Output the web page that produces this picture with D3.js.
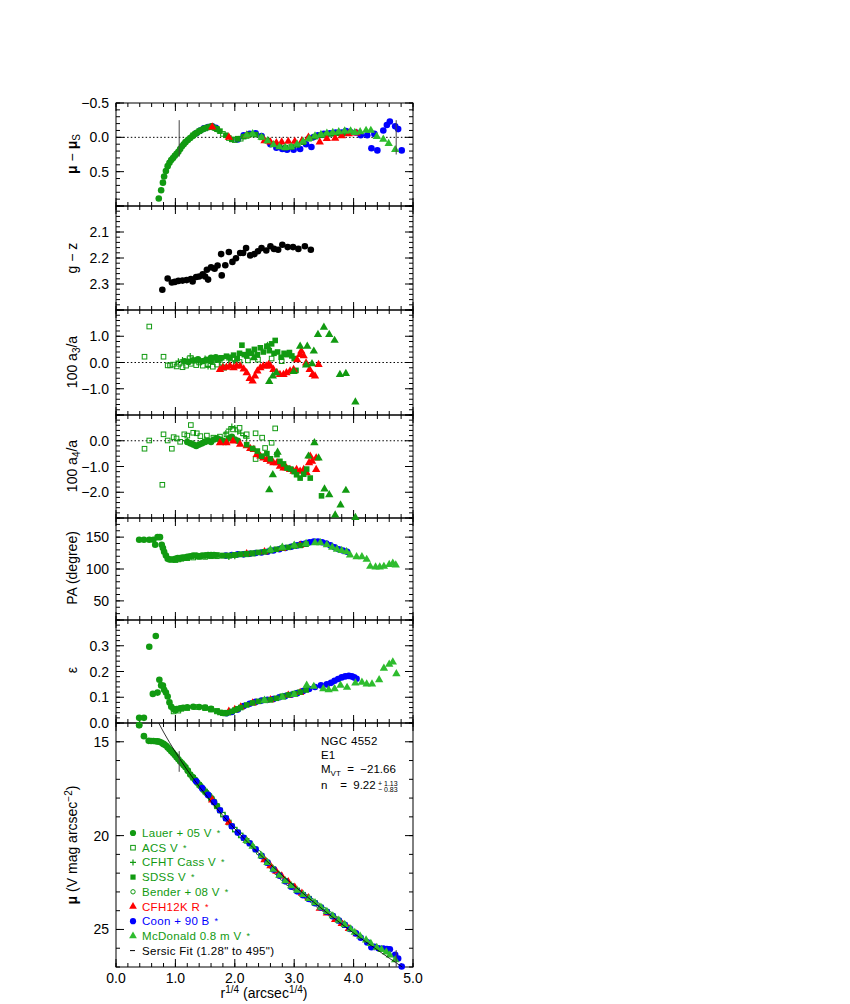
<!DOCTYPE html>
<html><head><meta charset="utf-8">
<script src="https://cdn.jsdelivr.net/npm/d3@7"></script>
<style>body{margin:0;background:#fff}svg text{font-family:"Liberation Sans",Arial,sans-serif}</style>
</head><body><svg id="c" width="850" height="1004"></svg>
<script>
// ---------------- DATA ----------------
const xTickLabels = [0.0, 1.0, 2.0, 3.0, 4.0, 5.0];
const p1TickLabels = [-0.5, 0.0, 0.5];
const p2TickLabels = [2.1, 2.2, 2.3];
const p3TickLabels = [1.0, 0.0, -1.0];
const p4TickLabels = [0.0, -1.0, -2.0];
const p5TickLabels = [150, 100, 50];
const p6TickLabels = [0.0, 0.1, 0.2, 0.3];
const p7TickLabels = [15, 20, 25];

const legendLabels = ["Lauer + 05 V", "ACS V", "CFHT Cass V", "SDSS V", "Bender + 08 V", "CFH12K R", "Coon + 90 B", "McDonald 0.8 m V", "Sersic Fit (1.28\" to 495\")"];
const fitRange = [1.064, 4.717];

// panel 1 : mu - mu_S
const res_lauer = [[0.72,0.89],[0.76,0.77],[0.79,0.66],[0.81,0.57],[0.84,0.49],[0.87,0.42],[0.90,0.37],[0.93,0.33],[0.96,0.30],[0.99,0.27],[1.02,0.24],[1.05,0.21],[1.08,0.17],[1.11,0.13],[1.14,0.10],[1.17,0.07],[1.21,0.04],[1.25,0.01],[1.29,-0.02],[1.33,-0.05],[1.37,-0.07],[1.42,-0.10],[1.47,-0.12],[1.52,-0.14],[1.57,-0.15],[1.61,-0.16],[1.65,-0.14],[1.70,-0.12]];
const res_acs = [[1.30,-0.03],[1.40,-0.09],[1.50,-0.13],[1.60,-0.15],[1.70,-0.12],[1.80,-0.05],[1.90,0.01],[2.00,0.04],[2.10,0.02],[2.20,-0.02]];
const res_sdss = [[1.75,-0.09],[1.85,-0.03],[1.95,0.03],[2.05,0.02],[2.15,-0.01],[2.25,-0.04],[2.35,-0.04],[2.45,0.00],[2.55,0.05],[2.65,0.10],[2.75,0.13],[2.85,0.15],[2.95,0.14],[3.05,0.11],[3.15,0.07],[3.25,0.02],[3.35,-0.01],[3.45,-0.03],[3.55,-0.04],[3.65,-0.05],[3.75,-0.06],[3.85,-0.06]];
const res_cfh = [[1.62,-0.15],[1.90,0.00],[2.20,-0.03],[2.50,0.05],[2.60,0.07],[2.70,0.08],[2.79,0.07],[2.90,0.06],[3.01,0.06],[3.13,0.05],[3.24,0.00],[3.43,0.07],[3.55,0.02],[3.69,0.015],[3.80,-0.02],[3.92,-0.05],[4.05,-0.06]];
const res_coon = [[1.35,-0.06],[1.42,-0.10],[1.48,-0.13],[1.55,-0.15],[1.62,-0.16],[1.68,-0.14],[2.05,0.03],[2.15,-0.03],[2.25,-0.05],[2.35,-0.06],[2.45,-0.02],[2.60,0.10],[2.70,0.15],[2.80,0.17],[2.88,0.18],[2.99,0.18],[3.10,0.17],[3.20,0.10],[3.29,0.14],[3.32,0.00],[3.40,-0.03],[3.50,-0.05],[3.60,-0.06],[3.70,-0.07],[3.80,-0.07],[3.87,-0.09],[3.94,-0.08],[4.04,-0.07],[4.12,-0.03],[4.23,-0.03],[4.30,0.16],[4.35,-0.05],[4.40,0.19],[4.50,-0.10],[4.56,-0.18],[4.61,-0.23],[4.70,-0.16],[4.75,-0.12],[4.81,0.19]];
const res_mcd = [[2.20,-0.03],[2.30,-0.05],[2.45,0.00],[2.55,0.05],[2.65,0.11],[2.75,0.14],[2.85,0.15],[2.95,0.14],[3.05,0.10],[3.15,0.06],[3.25,0.02],[3.35,-0.02],[3.45,-0.04],[3.55,-0.06],[3.65,-0.07],[3.75,-0.08],[3.85,-0.09],[3.95,-0.09],[4.02,-0.07],[4.11,-0.08],[4.21,-0.10],[4.29,-0.10],[4.39,-0.01],[4.50,0.03],[4.59,0.09],[4.70,0.18]];

// panel 2 : g - z
const gz = [[0.78,2.322],[0.87,2.279],[0.94,2.294],[0.99,2.292],[1.05,2.288],[1.12,2.287],[1.19,2.285],[1.26,2.281],[1.29,2.290],[1.35,2.273],[1.40,2.271],[1.46,2.263],[1.50,2.271],[1.53,2.245],[1.55,2.283],[1.60,2.236],[1.66,2.241],[1.71,2.229],[1.77,2.185],[1.78,2.267],[1.84,2.228],[1.90,2.177],[1.96,2.215],[2.02,2.201],[2.09,2.181],[2.14,2.181],[2.19,2.162],[2.26,2.190],[2.33,2.185],[2.39,2.174],[2.45,2.162],[2.53,2.171],[2.60,2.155],[2.66,2.165],[2.73,2.168],[2.80,2.149],[2.89,2.158],[2.98,2.158],[3.07,2.165],[3.18,2.155],[3.28,2.168]];

// panel 3 : 100 a3/a
const a3_acs = [[0.56,1.37],[0.48,0.22],[0.80,0.22],[0.87,-0.11],[0.91,-0.11],[0.96,-0.08],[1.02,-0.15],[1.06,-0.05],[1.12,-0.18],[1.18,-0.12],[1.26,-0.05],[1.35,-0.10],[1.40,0.00],[1.46,-0.12],[1.55,-0.10],[1.63,-0.16],[1.70,-0.08],[1.82,-0.20],[1.94,-0.02],[2.08,0.02],[2.22,0.08],[2.39,0.11],[2.62,0.15],[2.79,0.05]];
const a3_cfht = [[1.05,0.05],[1.12,0.10],[1.20,0.12],[1.25,0.25],[1.30,0.15],[1.35,0.08],[1.42,0.05],[1.50,0.15],[1.55,-0.15],[1.60,0.05],[1.68,0.10],[1.75,0.02],[1.80,-0.10],[1.90,0.10],[2.00,0.05]];
const a3_lauer = [[1.15,0.05],[1.22,0.02],[1.30,0.08],[1.38,0.12],[1.45,0.05],[1.52,0.10],[1.60,0.18],[1.68,0.20],[1.75,0.15]];
const a3_sdss = [[1.60,0.05],[1.70,0.12],[1.78,0.18],[1.86,0.24],[1.92,0.20],[1.98,0.28],[2.04,0.15],[2.08,0.35],[2.12,0.66],[2.16,0.30],[2.20,0.25],[2.23,0.43],[2.28,0.35],[2.33,0.50],[2.38,0.30],[2.43,0.56],[2.48,0.40],[2.54,0.62],[2.58,0.45],[2.62,0.71],[2.66,0.35],[2.68,0.84],[2.72,0.40],[2.78,0.20],[2.83,0.35],[2.87,0.30],[2.92,0.38],[2.96,0.25],[3.00,0.15],[3.03,-0.30]];
const a3_cfh = [[1.75,-0.27],[1.80,-0.20],[1.86,-0.18],[1.92,-0.14],[1.98,-0.20],[2.03,-0.14],[2.09,-0.14],[2.15,-0.25],[2.20,-0.39],[2.25,-0.61],[2.30,-0.71],[2.34,-0.52],[2.38,-0.33],[2.43,-0.20],[2.48,-0.14],[2.53,-0.14],[2.57,-0.08],[2.60,-0.14],[2.65,-0.27],[2.71,-0.39],[2.76,-0.46],[2.82,-0.46],[2.87,-0.39],[2.93,-0.33],[2.99,-0.27],[3.05,0.10],[3.10,0.30],[3.12,0.43],[3.16,0.25],[3.20,-0.02],[3.26,-0.27],[3.31,-0.46],[3.35,-0.52],[3.41,-0.08]];
const a3_mcd = [[2.32,0.18],[2.55,0.62],[2.58,-0.73],[2.64,-0.52],[2.70,-0.39],[2.99,-0.35],[3.10,0.62],[3.20,-0.10],[3.22,0.62],[3.30,-0.05],[3.33,0.43],[3.40,1.06],[3.50,1.34],[3.59,1.06],[3.68,0.84],[3.77,-0.46],[3.87,-0.42],[4.03,-1.51]];

// panel 4 : 100 a4/a
const a4_acs = [[0.48,-0.31],[0.56,0.01],[0.80,0.25],[0.78,-1.71],[0.87,0.01],[0.94,-0.31],[0.97,0.14],[1.02,0.09],[1.08,-0.04],[1.15,0.25],[1.20,0.20],[1.26,0.61],[1.30,0.31],[1.36,0.29],[1.42,0.18],[1.53,0.20],[1.64,0.12],[1.75,0.16],[1.86,0.25],[1.97,0.44],[2.08,0.50],[2.20,0.25],[2.35,0.29],[2.46,0.12],[2.68,0.48],[2.62,-0.08],[2.51,-0.28],[2.35,-0.71]];
const a4_cfht = [[1.20,0.00],[1.30,-0.10],[1.50,0.05],[1.85,0.30],[1.90,0.45],[1.95,0.55],[2.00,0.50],[2.05,0.35],[2.10,0.30],[2.15,0.20],[2.20,0.10]];
const a4_lauer = [[1.20,-0.05],[1.25,-0.10],[1.30,-0.15],[1.35,-0.20],[1.40,-0.15],[1.45,-0.10],[1.50,-0.05],[1.55,0.00],[1.60,-0.05],[1.65,0.05],[1.70,0.10],[1.75,0.05],[1.80,0.00],[1.85,-0.05],[1.90,0.10],[1.95,0.15],[2.00,0.05],[2.05,0.00]];
const a4_sdss = [[2.20,-0.15],[2.30,-0.30],[2.38,-0.40],[2.45,-0.60],[2.54,-0.50],[2.60,-0.70],[2.71,-0.54],[2.76,-0.80],[2.82,-0.90],[2.88,-1.06],[2.94,-1.10],[3.00,-1.20],[3.04,-1.32],[3.10,-1.45],[3.16,-1.30],[3.21,-1.10],[3.27,-1.45],[3.46,-2.14]];
const a4_cfh = [[1.75,-0.08],[1.86,-0.08],[1.97,-0.01],[2.09,-0.14],[2.20,-0.20],[2.26,-0.30],[2.32,-0.34],[2.37,-0.54],[2.43,-0.60],[2.48,-0.67],[2.54,-0.73],[2.60,-0.80],[2.65,-0.86],[2.71,-0.86],[2.76,-0.99],[2.82,-1.06],[2.87,-1.06],[2.93,-1.12],[2.99,-1.19],[3.04,-1.12],[3.10,-1.19],[3.16,-1.12],[3.21,-1.25],[3.25,-0.86],[3.27,-0.60],[3.30,-0.80],[3.37,-0.67],[3.37,-1.12]];
const a4_mcd = [[2.58,-1.91],[2.64,-1.32],[2.72,-0.45],[3.24,-0.60],[3.34,-0.08],[3.41,-0.67],[3.51,-1.88],[3.59,-2.10],[3.69,-2.89],[3.78,-2.50],[3.87,-1.93],[4.03,-2.98]];

// panel 5 : PA
const pa_lauer = [[0.39,146],[0.47,146],[0.56,146],[0.63,146],[0.66,138],[0.70,150],[0.74,150],[0.77,138],[0.79,133],[0.81,127],[0.84,121],[0.87,116],[0.90,115],[0.93,115],[0.97,115],[1.00,116],[1.04,117],[1.08,117],[1.12,118],[1.16,118],[1.20,119],[1.25,120],[1.30,121],[1.35,121],[1.40,120],[1.45,121],[1.50,121],[1.55,122],[1.60,122],[1.65,122]];
const pa_acs = [[1.00,114],[1.05,115],[1.10,116],[1.15,117],[1.20,117],[1.30,118],[1.40,119],[1.50,119],[1.60,120],[1.70,120],[1.80,121],[1.90,121],[2.00,122],[2.10,123],[2.20,123],[2.30,124]];
const pa_cfht = [[1.30,120],[1.50,122],[1.70,121],[1.90,119],[2.00,120]];
const pa_sdss = [[1.60,121],[1.70,122],[1.80,121],[1.90,121],[2.00,122],[2.10,123],[2.20,124],[2.30,125],[2.40,126],[2.50,127],[2.60,129],[2.70,131],[2.80,133],[2.90,134],[3.00,136],[3.10,137],[3.20,139]];
const pa_cfh = [[2.20,124],[2.50,127],[2.80,132],[3.10,137]];
const pa_coon = [[1.85,121],[1.95,122],[2.05,123],[2.15,123],[2.25,124],[2.35,125],[2.45,126],[2.55,127],[2.65,129],[2.75,131],[2.85,133],[2.95,135],[3.05,137],[3.12,139],[3.19,140],[3.26,142],[3.33,143],[3.40,143],[3.47,142],[3.54,140],[3.61,137],[3.68,134],[3.75,131],[3.82,129],[3.89,127]];
const pa_mcd = [[2.60,130],[2.80,134],[3.00,137],[3.20,140],[3.35,141],[3.44,141],[3.55,138],[3.64,134],[3.72,131],[3.80,129],[3.88,127],[3.94,122],[4.05,119],[4.14,119],[4.22,115],[4.28,104],[4.37,103],[4.44,103],[4.51,104],[4.60,107],[4.66,109],[4.71,106]];

// panel 6 : ellipticity
const eps_lauer = [[0.39,-0.008],[0.39,0.02],[0.47,0.02],[0.56,0.296],[0.62,0.113],[0.67,0.338],[0.70,0.118],[0.73,0.168],[0.76,0.146],[0.79,0.145],[0.81,0.129],[0.84,0.118],[0.87,0.103],[0.90,0.080],[0.93,0.063],[0.97,0.054],[1.02,0.054],[1.08,0.057],[1.13,0.059],[1.20,0.061],[1.30,0.063],[1.40,0.062],[1.50,0.060],[1.60,0.055]];
const eps_acs = [[0.97,0.045],[1.00,0.050],[1.05,0.048],[1.10,0.055],[1.20,0.058],[1.35,0.062],[1.50,0.060],[1.60,0.052],[1.70,0.045],[1.80,0.040]];
const eps_sdss = [[1.50,0.058],[1.60,0.054],[1.70,0.047],[1.75,0.041],[1.80,0.038],[1.84,0.037],[1.89,0.040],[1.95,0.045],[2.00,0.050],[2.05,0.055],[2.10,0.060],[2.20,0.070],[2.30,0.078],[2.40,0.084],[2.50,0.088],[2.60,0.090],[2.70,0.096],[2.80,0.104],[2.90,0.109],[3.00,0.114],[3.10,0.120],[3.20,0.128]];
const eps_cfh = [[1.90,0.045],[2.00,0.052],[2.10,0.062],[2.30,0.077],[2.60,0.090],[2.90,0.108],[3.10,0.118]];
const eps_coon = [[1.86,0.038],[1.95,0.043],[2.05,0.052],[2.15,0.066],[2.25,0.075],[2.35,0.082],[2.45,0.087],[2.55,0.090],[2.65,0.093],[2.75,0.100],[2.85,0.105],[2.95,0.110],[3.05,0.116],[3.15,0.124],[3.25,0.132],[3.35,0.140],[3.45,0.146],[3.55,0.150],[3.62,0.156],[3.68,0.164],[3.74,0.171],[3.80,0.177],[3.86,0.181],[3.92,0.183],[3.97,0.181],[4.01,0.177],[4.05,0.172]];
const eps_mcd = [[2.50,0.088],[2.80,0.100],[3.00,0.110],[3.21,0.146],[3.33,0.142],[3.49,0.133],[3.58,0.129],[3.68,0.133],[3.78,0.146],[3.89,0.138],[4.03,0.155],[4.14,0.158],[4.22,0.151],[4.31,0.151],[4.43,0.168],[4.51,0.212],[4.60,0.228],[4.66,0.237],[4.72,0.191]];

// panel 7 : surface brightness
const mu_lauer = [[0.39,14.12],[0.47,14.70],[0.55,14.95],[0.59,14.96],[0.63,14.96],[0.67,14.97],[0.70,14.98],[0.73,15.00],[0.76,15.04],[0.79,15.10],[0.81,15.14],[0.84,15.20],[0.87,15.30],[0.90,15.40],[0.93,15.50],[0.96,15.60],[0.99,15.71],[1.02,15.82],[1.05,15.93],[1.08,16.05],[1.11,16.15],[1.14,16.25],[1.17,16.36],[1.21,16.54],[1.25,16.74],[1.29,16.88],[1.33,17.03],[1.37,17.18],[1.42,17.36],[1.47,17.55],[1.52,17.72],[1.57,17.88],[1.61,18.02],[1.65,18.20],[1.70,18.42]];
const mu_acs = [[1.30,16.92],[1.40,17.29],[1.50,17.65],[1.60,18.03],[1.70,18.44],[1.80,18.88],[1.90,19.30],[2.00,19.68],[2.10,19.99],[2.20,20.28]];
const mu_bender = [[1.20,16.56],[1.30,16.92],[1.40,17.29],[1.50,17.65],[1.60,18.03],[1.70,18.44],[1.80,18.88],[1.90,19.30],[2.00,19.68],[2.10,19.98],[2.20,20.27],[2.30,20.57],[2.40,20.91],[2.50,21.26],[2.60,21.62],[2.70,21.96],[2.80,22.27],[2.90,22.55],[3.00,22.80],[3.10,23.04],[3.20,23.25],[3.30,23.47],[3.40,23.70],[3.50,23.93],[3.60,24.17],[3.70,24.41],[3.80,24.64]];
const mu_sdss = [[1.75,18.66],[1.85,19.08],[1.95,19.50],[2.05,19.83],[2.15,20.13],[2.25,20.42],[2.35,20.74],[2.45,21.09],[2.55,21.44],[2.65,21.79],[2.75,22.11],[2.85,22.41],[2.95,22.68],[3.05,22.92],[3.15,23.15],[3.25,23.36],[3.35,23.59],[3.45,23.83],[3.55,24.07],[3.65,24.30],[3.75,24.53],[3.85,24.77]];
const mu_cfh = [[1.62,18.11],[1.90,19.29],[2.20,20.27],[2.50,21.29],[2.60,21.61],[2.70,21.91],[2.79,22.16],[2.90,22.46],[3.01,22.76],[3.13,23.07],[3.24,23.31],[3.43,23.88],[3.55,24.13],[3.69,24.47],[3.80,24.69],[3.92,24.95],[4.05,25.24]];
const mu_coon = [[1.35,17.11],[1.45,17.47],[1.55,17.83],[1.65,18.22],[1.75,18.65],[1.85,19.08],[1.95,19.50],[2.05,19.84],[2.15,20.12],[2.25,20.41],[2.35,20.73],[2.45,21.08],[2.55,21.44],[2.65,21.80],[2.75,22.13],[2.85,22.43],[2.95,22.72],[3.05,22.97],[3.15,23.18],[3.25,23.38],[3.35,23.60],[3.45,23.83],[3.55,24.06],[3.65,24.29],[3.75,24.52],[3.85,24.75],[3.94,24.97],[4.04,25.21],[4.12,25.44],[4.23,25.69],[4.30,25.95],[4.35,25.93],[4.42,26.00],[4.50,26.02],[4.56,26.04],[4.61,26.06],[4.70,26.35],[4.75,26.55],[4.81,26.97]];
const mu_mcd = [[2.20,20.27],[2.30,20.57],[2.45,21.08],[2.55,21.44],[2.65,21.80],[2.75,22.12],[2.85,22.41],[2.95,22.68],[3.05,22.91],[3.15,23.14],[3.25,23.36],[3.35,23.58],[3.45,23.82],[3.55,24.05],[3.65,24.28],[3.75,24.51],[3.85,24.74],[3.95,24.98],[4.02,25.16],[4.11,25.36],[4.21,25.57],[4.29,25.75],[4.39,25.97],[4.47,26.07],[4.55,26.20],[4.61,26.37],[4.70,26.62]];
const fit_mu = [[0.72,14.01],[0.80,14.48],[0.90,15.03],[1.00,15.55],[1.10,16.04],[1.20,16.51],[1.30,16.95],[1.40,17.38],[1.50,17.78],[1.60,18.18],[1.70,18.56],[1.80,18.93],[1.90,19.29],[2.00,19.64],[2.10,19.97],[2.20,20.30],[2.30,20.62],[2.40,20.93],[2.50,21.24],[2.60,21.54],[2.70,21.83],[2.80,22.12],[2.90,22.40],[3.00,22.67],[3.10,22.94],[3.20,23.21],[3.30,23.47],[3.40,23.73],[3.50,23.98],[3.60,24.23],[3.70,24.47],[3.80,24.71],[3.90,24.95],[4.00,25.19],[4.10,25.42],[4.20,25.65],[4.30,25.87],[4.40,26.09],[4.50,26.31],[4.60,26.53],[4.70,26.74],[4.80,26.96],[4.82,27.00]];

// ---------------- STYLE / LAYOUT ----------------
const GREEN = "#119a11", LGREEN = "#2ebc2e", RED = "#ff0000", BLUE = "#0000ff";
const L = 116, R = 413;
const svg = d3.select("#c");
svg.append("rect").attr("width",850).attr("height",1004).attr("fill","#fff");
const x = d3.scaleLinear().domain([0,5]).range([L,R]);

const panels = [
  {top:103, bot:206, dom:[-0.5,1.0], inv:true,  maj:0.5, min:0.1, labels:p1TickLabels, fmt:".1f"},
  {top:206, bot:310, dom:[2.0,2.4],  inv:true,  maj:0.1, min:0.02, labels:p2TickLabels, fmt:".1f"},
  {top:310, bot:415, dom:[-2,2],     inv:false, maj:1,   min:0.2, labels:p3TickLabels, fmt:".1f"},
  {top:415, bot:518, dom:[-3,1],     inv:false, maj:1,   min:0.2, labels:p4TickLabels, fmt:".1f"},
  {top:518, bot:620, dom:[20,180],   inv:false, maj:50,  min:10,  labels:p5TickLabels, fmt:"d"},
  {top:620, bot:723, dom:[0,0.4],    inv:false, maj:0.1, min:0.02, labels:p6TickLabels, fmt:".1f"},
  {top:723, bot:967, dom:[14,27],    inv:true,  maj:5,   min:1,   labels:p7TickLabels, fmt:"d"}
];
panels.forEach(p => {
  p.y = d3.scaleLinear().domain(p.dom).range(p.inv ? [p.top,p.bot] : [p.bot,p.top]);
});

function ticksBetween(lo, hi, step){
  const out=[];
  const start=Math.ceil(lo/step-1e-9);
  for(let i=start;i*step<=hi+1e-9;i++) out.push(+(i*step).toFixed(6));
  return out;
}

const axisG = svg.append("g");
panels.forEach((p,i) => {
  const g = axisG.append("g");
  const yMaj = ticksBetween(Math.min(...p.dom), Math.max(...p.dom), p.maj);
  const yMin = ticksBetween(Math.min(...p.dom), Math.max(...p.dom), p.min);
  const xMaj = ticksBetween(0,5,1), xMin = ticksBetween(0,5,0.2);
  const line = (x1,y1,x2,y2) => g.append("line").attr("x1",x1).attr("y1",y1).attr("x2",x2).attr("y2",y2).attr("stroke","#000").attr("stroke-width",1);
  yMin.forEach(v => { const yy=p.y(v); line(L,yy,L+4,yy); line(R,yy,R-4,yy); });
  yMaj.forEach(v => { const yy=p.y(v); line(L,yy,L+8,yy); line(R,yy,R-8,yy); });
  xMin.forEach(v => { const xx=x(v); line(xx,p.top,xx,p.top+4); line(xx,p.bot,xx,p.bot-4); });
  xMaj.forEach(v => { const xx=x(v); line(xx,p.top,xx,p.top+8); line(xx,p.bot,xx,p.bot-8); });
  g.append("rect").attr("x",L).attr("y",p.top).attr("width",R-L).attr("height",p.bot-p.top)
    .attr("fill","none").attr("stroke","#000").attr("stroke-width",1);
  const f = d3.format(p.fmt);
  p.labels.forEach(v => {
    g.append("text").attr("x",L-7).attr("y",p.y(v)+5).attr("text-anchor","end")
      .attr("font-size",14).text(f(v));
  });
});
// x tick labels
xTickLabels.forEach(v => {
  svg.append("text").attr("x",x(v)).attr("y",983).attr("text-anchor","middle").attr("font-size",14).text(d3.format(".1f")(v));
});

// zero lines
[0,2,3].forEach(i => {
  const p = panels[i];
  svg.append("line").attr("x1",L).attr("x2",R).attr("y1",p.y(0)).attr("y2",p.y(0))
    .attr("stroke","#000").attr("stroke-width",1).attr("stroke-dasharray","1.5,2.2");
});

// markers
function draw(p, data, kind, color){
  const g = svg.append("g");
  data.forEach(d => {
    const cx = x(d[0]), cy = p.y(d[1]);
    const t = `translate(${cx},${cy})`;
    if(kind==="circle") g.append("circle").attr("cx",cx).attr("cy",cy).attr("r",3.3).attr("fill",color);
    else if(kind==="ocircle") g.append("circle").attr("cx",cx).attr("cy",cy).attr("r",2.3).attr("fill","none").attr("stroke",color).attr("stroke-width",1);
    else if(kind==="square") g.append("rect").attr("x",cx-2.8).attr("y",cy-2.8).attr("width",5.6).attr("height",5.6).attr("fill",color);
    else if(kind==="osquare") g.append("rect").attr("x",cx-2.3).attr("y",cy-2.3).attr("width",4.6).attr("height",4.6).attr("fill","none").attr("stroke",color).attr("stroke-width",1);
    else if(kind==="plus") g.append("path").attr("d",`M${cx-3},${cy}H${cx+3}M${cx},${cy-3}V${cy+3}`).attr("stroke",color).attr("stroke-width",1.2);
    else if(kind==="tri") g.append("path").attr("d",d3.symbol(d3.symbolTriangle,30)()).attr("transform",t).attr("fill",color);
  });
}
const [P1,P2,P3,P4,P5,P6,P7] = panels;

// panel 1
draw(P1,res_coon,"circle",BLUE);
draw(P1,res_acs,"osquare",GREEN);
draw(P1,res_sdss,"square",GREEN);
draw(P1,res_lauer,"circle",GREEN);
draw(P1,res_cfh,"tri",RED);
draw(P1,res_mcd,"tri",LGREEN);
// panel 2
draw(P2,gz,"circle","#000");
// panel 3
draw(P3,a3_acs,"osquare",GREEN);
draw(P3,a3_cfht,"plus",GREEN);
draw(P3,a3_lauer,"circle",GREEN);
draw(P3,a3_sdss,"square",GREEN);
draw(P3,a3_cfh,"tri",RED);
draw(P3,a3_mcd,"tri",GREEN);
// panel 4
draw(P4,a4_acs,"osquare",GREEN);
draw(P4,a4_cfht,"plus",GREEN);
draw(P4,a4_lauer,"circle",GREEN);
draw(P4,a4_cfh,"tri",RED);
draw(P4,a4_sdss,"square",GREEN);
draw(P4,a4_mcd,"tri",GREEN);
// panel 5
draw(P5,pa_coon,"circle",BLUE);
draw(P5,pa_acs,"osquare",GREEN);
draw(P5,pa_cfht,"plus",GREEN);
draw(P5,pa_cfh,"tri",RED);
draw(P5,pa_sdss,"square",GREEN);
draw(P5,pa_lauer,"circle",GREEN);
draw(P5,pa_mcd,"tri",LGREEN);
// panel 6
draw(P6,eps_coon,"circle",BLUE);
draw(P6,eps_acs,"osquare",GREEN);
draw(P6,eps_cfh,"tri",RED);
draw(P6,eps_sdss,"square",GREEN);
draw(P6,eps_lauer,"circle",GREEN);
draw(P6,eps_mcd,"tri",LGREEN);
// panel 7
draw(P7,mu_bender,"ocircle",GREEN);
draw(P7,mu_acs,"osquare",GREEN);
draw(P7,mu_sdss,"square",GREEN);
draw(P7,mu_lauer,"circle",GREEN);
draw(P7,mu_cfh,"tri",RED);
draw(P7,mu_coon,"circle",BLUE);
draw(P7,mu_mcd,"tri",LGREEN);
svg.append("path").datum(fit_mu)
  .attr("d", d3.line().x(d=>x(d[0])).y(d=>P7.y(d[1])))
  .attr("fill","none").attr("stroke","#000").attr("stroke-width",0.8);

// fit range markers
function vline(xv, y1, y2){
  svg.append("line").attr("x1",x(xv)).attr("x2",x(xv)).attr("y1",y1).attr("y2",y2).attr("stroke","#444").attr("stroke-width",1);
}
vline(fitRange[0], P1.y(-0.25), P1.y(0.28));
vline(fitRange[1], P1.y(-0.25), P1.y(0.25));
vline(fitRange[0], P7.y(15.5), P7.y(16.6));
vline(fitRange[1], P7.y(26.1), P7.y(27.0));

// y titles
function ytitle(xp, yp, build){
  const t = svg.append("text").attr("transform",`translate(${xp},${yp}) rotate(-90)`).attr("text-anchor","middle").attr("font-size",14);
  build(t);
}
ytitle(77, 154, t => { t.append("tspan").attr("font-weight","bold").text("μ"); t.append("tspan").text(" − "); t.append("tspan").attr("font-weight","bold").text("μ"); t.append("tspan").attr("font-size",10).attr("dy",3).text("S"); });
ytitle(77, 258, t => t.text("g − z"));
ytitle(77, 362, t => { t.append("tspan").text("100 a"); t.append("tspan").attr("font-size",10).attr("dy",3).text("3"); t.append("tspan").attr("dy",-3).text("/a"); });
ytitle(77, 466, t => { t.append("tspan").text("100 a"); t.append("tspan").attr("font-size",10).attr("dy",3).text("4"); t.append("tspan").attr("dy",-3).text("/a"); });
ytitle(77, 568, t => t.text("PA (degree)"));
ytitle(77, 670, t => t.text("ε"));
ytitle(77, 845, t => { t.append("tspan").attr("font-weight","bold").text("μ"); t.append("tspan").text(" (V mag arcsec"); t.append("tspan").attr("font-size",10).attr("dy",-5).text("−2"); t.append("tspan").attr("dy",5).text(")"); });

// x title
{
  const t = svg.append("text").attr("x",264).attr("y",998).attr("text-anchor","middle").attr("font-size",14);
  t.append("tspan").text("r"); t.append("tspan").attr("font-size",10).attr("dy",-5).text("1/4");
  t.append("tspan").attr("dy",5).text(" (arcsec"); t.append("tspan").attr("font-size",10).attr("dy",-5).text("1/4");
  t.append("tspan").attr("dy",5).text(")");
}

// annotation
{
  const ax = 321, fs = 11.5;
  svg.append("text").attr("x",ax).attr("y",745).attr("font-size",fs).attr("letter-spacing",0.3).text("NGC 4552");
  svg.append("text").attr("x",ax).attr("y",759).attr("font-size",fs).text("E1");
  const m = svg.append("text").attr("x",ax).attr("y",773).attr("font-size",fs).attr("xml:space","preserve");
  m.append("tspan").text("M"); m.append("tspan").attr("font-size",8).attr("dy",2.5).text("VT");
  m.append("tspan").attr("dy",-2.5).text("  =  −21.66");
  svg.append("text").attr("x",ax).attr("y",789).attr("font-size",fs).attr("xml:space","preserve").text("n    =  9.22");
  svg.append("text").attr("x",378).attr("y",785.5).attr("font-size",7).text("+ 1.13");
  svg.append("text").attr("x",378).attr("y",792).attr("font-size",7).text("− 0.83");
}

// legend
{
  const kinds = ["circle","osquare","plus","square","ocircle","tri","circle","tri","line"];
  const cols = [GREEN,GREEN,GREEN,GREEN,GREEN,RED,BLUE,GREEN,"#000"];
  const mcols = [GREEN,GREEN,GREEN,GREEN,GREEN,RED,BLUE,LGREEN,"#000"];
  const lx = 133, tx = 142, y0 = 833, dy = 14.7;
  legendLabels.forEach((lab,i) => {
    const yy = y0 + i*dy;
    const g = svg.append("g");
    const k = kinds[i], c = mcols[i];
    if(k==="circle") g.append("circle").attr("cx",lx).attr("cy",yy).attr("r",3.1).attr("fill",c);
    else if(k==="ocircle") g.append("circle").attr("cx",lx).attr("cy",yy).attr("r",2.2).attr("fill","none").attr("stroke",c);
    else if(k==="square") g.append("rect").attr("x",lx-2.6).attr("y",yy-2.6).attr("width",5.2).attr("height",5.2).attr("fill",c);
    else if(k==="osquare") g.append("rect").attr("x",lx-2.3).attr("y",yy-2.3).attr("width",4.6).attr("height",4.6).attr("fill","none").attr("stroke",c);
    else if(k==="plus") g.append("path").attr("d",`M${lx-3},${yy}H${lx+3}M${lx},${yy-3}V${yy+3}`).attr("stroke",c).attr("stroke-width",1.2);
    else if(k==="tri") g.append("path").attr("d",d3.symbol(d3.symbolTriangle,26)()).attr("transform",`translate(${lx},${yy})`).attr("fill",c);
    else g.append("line").attr("x1",lx-3).attr("x2",lx+2).attr("y1",yy).attr("y2",yy).attr("stroke",c);
    const t = g.append("text").attr("x",tx).attr("y",yy+4).attr("font-size",11.5).attr("letter-spacing",0.3).attr("fill",cols[i]).text(lab);
    if(k!=="line") t.append("tspan").attr("dx",5).attr("dy",-1).attr("font-size",9).text("*");
  });
}
</script></body></html>
